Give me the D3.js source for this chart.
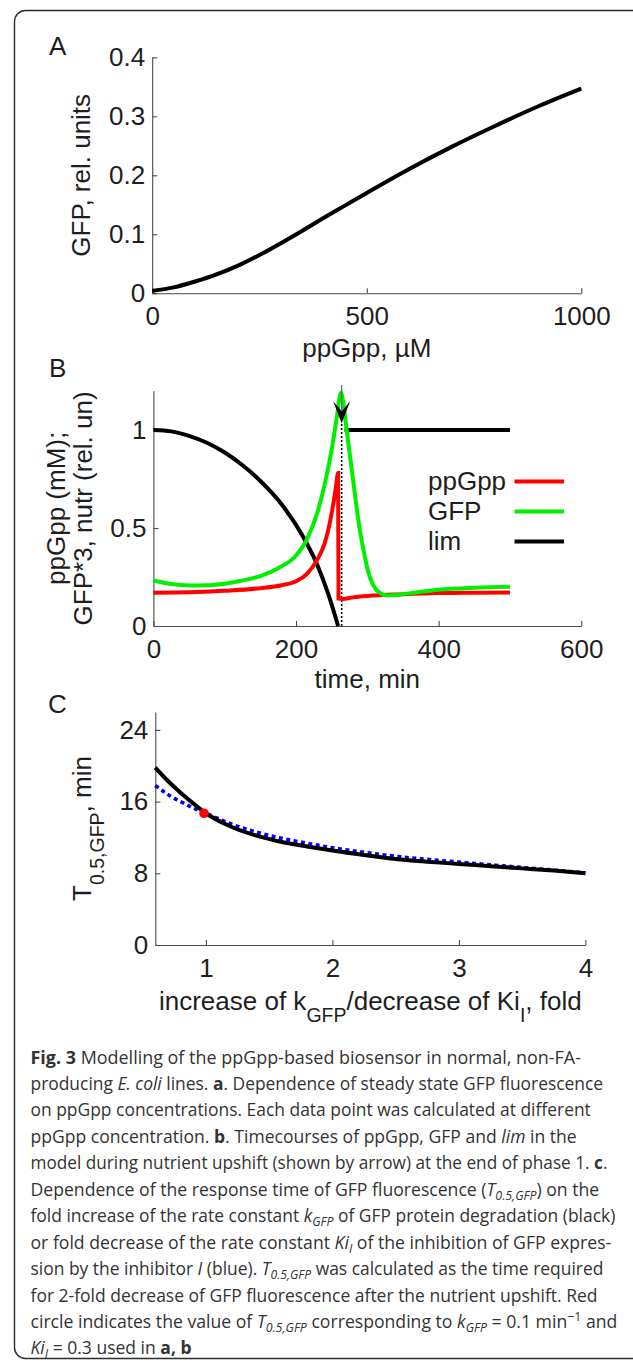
<!DOCTYPE html>
<html>
<head>
<meta charset="utf-8">
<script src="https://cdn.jsdelivr.net/npm/d3@7"></script>
<style>
  html, body { margin: 0; padding: 0; background: #fff; }
  svg { display: block; }
</style>
</head>
<body>
<svg id="fig" width="633" height="1364"></svg>
<script>
// ---------------- DATA ----------------
// Panel A: steady-state GFP vs ppGpp
const aPpGpp = [0, 50, 100, 150, 200, 250, 300, 350, 400, 450, 500, 600, 700, 800, 900, 1000];
const aGFP   = [0.004, 0.010, 0.020, 0.032, 0.047, 0.065, 0.085, 0.106, 0.128, 0.149, 0.170, 0.211, 0.249, 0.284, 0.317, 0.347];
const aXTicks = [0, 500, 1000];
const aXTickLabels = ["0", "500", "1000"];
const aYTicks = [0, 0.1, 0.2, 0.3, 0.4];
const aYTickLabels = ["0", "0.1", "0.2", "0.3", "0.4"];

// Panel B: time courses
const bPpGpp = [[0,0.170],[50,0.172],[100,0.180],[150,0.193],[180,0.208],[200,0.228],[215,0.265],[230,0.34],[240,0.42],[247,0.52],[253,0.64],[256,0.71],[259,0.78],[259.6,0.14],[265,0.138],[280,0.146],[300,0.153],[350,0.162],[400,0.168],[450,0.170],[500,0.171]];
const bGFP   = [[0,0.232],[25,0.214],[50,0.207],[75,0.208],[100,0.216],[125,0.232],[150,0.255],[175,0.295],[200,0.36],[215,0.44],[230,0.58],[240,0.72],[250,0.9],[257,1.06],[263,1.19],[267,1.12],[271,1.0],[277,0.83],[283,0.66],[289,0.50],[295,0.38],[301,0.28],[308,0.21],[317,0.17],[328,0.156],[340,0.158],[370,0.172],[400,0.185],[450,0.195],[500,0.200]];
const bLim   = [[0,1.0],[25,0.993],[50,0.97],[75,0.935],[100,0.885],[125,0.82],[150,0.74],[180,0.62],[210,0.455],[230,0.31],[245,0.165],[259,0]];
const bLimAfter = [[268,1],[500,1]];
const bUpshiftTime = 264;
const bArrowTip = 1.035, bArrowTop = 1.23;
const bXTicks = [0, 200, 400, 600];
const bXTickLabels = ["0", "200", "400", "600"];
const bYTicks = [0, 0.5, 1];
const bYTickLabels = ["0", "0.5", "1"];
const bLegend = ["ppGpp", "GFP", "lim"];

// Panel C: response time vs fold change
const cFold  = [0.6, 0.7, 0.8, 0.9, 1.0, 1.2, 1.4, 1.6, 1.8, 2.0, 2.25, 2.5, 2.75, 3.0, 3.25, 3.5, 3.75, 4.0];
const cKgfp  = [19.8, 18.3, 17.0, 15.8, 14.7, 13.2, 12.2, 11.5, 11.0, 10.55, 10.05, 9.6, 9.3, 9.05, 8.8, 8.55, 8.3, 8.0];
const cKiI   = [17.8, 16.8, 16.0, 15.3, 14.7, 13.5, 12.6, 11.9, 11.35, 10.85, 10.35, 9.9, 9.55, 9.25, 8.95, 8.65, 8.35, 8.05];
const cPoint = [0.985, 14.7];
const cXTicks = [1, 2, 3, 4];
const cXTickLabels = ["1", "2", "3", "4"];
const cYTicks = [0, 8, 16, 24];
const cYTickLabels = ["0", "8", "16", "24"];

// Caption (text only)
const captionLines = [
  [["Fig. 3","b"],[" Modelling of the ppGpp-based biosensor in normal, non-FA-"]],
  [["producing "],["E. coli","i"],[" lines. "],["a","b"],[". Dependence of steady state GFP fluorescence"]],
  [["on ppGpp concentrations. Each data point was calculated at different"]],
  [["ppGpp concentration. "],["b","b"],[". Timecourses of ppGpp, GFP and "],["lim","i"],[" in the"]],
  [["model during nutrient upshift (shown by arrow) at the end of phase 1. "],["c","b"],["."]],
  [["Dependence of the response time of GFP fluorescence ("],["T","i"],["0.5,GFP","isub"],[") on the"]],
  [["fold increase of the rate constant "],["k","i"],["GFP","isub"],[" of GFP protein degradation (black)"]],
  [["or fold decrease of the rate constant "],["Ki","i"],["I","isub"],[" of the inhibition of GFP expres-"]],
  [["sion by the inhibitor "],["I","i"],[" (blue). "],["T","i"],["0.5,GFP","isub"],[" was calculated as the time required"]],
  [["for 2-fold decrease of GFP fluorescence after the nutrient upshift. Red"]],
  [["circle indicates the value of "],["T","i"],["0.5,GFP","isub"],[" corresponding to "],["k","i"],["GFP","isub"],[" = 0.1 min"],["\u22121","sup"],[" and"]],
  [["Ki","i"],["I","isub"],[" = 0.3 used in "],["a, b","b"]]
];

// ---------------- LAYOUT ----------------
const FONT = "'Liberation Sans', Arial, Helvetica, sans-serif";
const TXT = "#1e1e1e";
const AX = "#4a4a4a";
const svg = d3.select("#fig");
svg.append("rect").attr("width", 633).attr("height", 1364).attr("fill", "#fff");
svg.append("rect").attr("x", 14.5).attr("y", 10.5).attr("width", 630).attr("height", 1348)
   .attr("rx", 11).attr("fill", "none").attr("stroke", "#2b2b2b").attr("stroke-width", 1.4);

function drawAxes(g, x, y, xt, xtl, yt, ytl) {
  const xa = d3.axisBottom(x).tickValues(xt).tickFormat((d, i) => xtl[i])
    .tickSizeInner(-5).tickSizeOuter(0).tickPadding(13.5);
  const ya = d3.axisLeft(y).tickValues(yt).tickFormat((d, i) => ytl[i])
    .tickSizeInner(-5).tickSizeOuter(0).tickPadding(7);
  const gx = g.append("g").attr("transform", `translate(0,${y.range()[0]})`).call(xa);
  const gy = g.append("g").attr("transform", `translate(${x.range()[0]},0)`).call(ya);
  [gx, gy].forEach(a => {
    a.select(".domain").attr("stroke", AX).attr("stroke-width", 1.1);
    a.selectAll(".tick line").attr("stroke", AX).attr("stroke-width", 1.1);
    a.selectAll(".tick text").attr("fill", TXT).style("font-family", FONT).style("font-size", "26px");
  });
}
function panelLabel(t, x, y) {
  svg.append("text").attr("x", x).attr("y", y).text(t)
    .attr("fill", TXT).style("font-family", FONT).style("font-size", "26px");
}

// ---------- Panel A ----------
{
  const x = d3.scaleLinear().domain([0, 1000]).range([152.2, 581.3]);
  const y = d3.scaleLinear().domain([0, 0.4]).range([293.3, 57.3]);
  const g = svg.append("g");
  drawAxes(g, x, y, aXTicks, aXTickLabels, aYTicks, aYTickLabels);
  g.append("path").datum(aPpGpp.map((v, i) => [v, aGFP[i]]))
    .attr("d", d3.line().x(d => x(d[0])).y(d => y(d[1])).curve(d3.curveMonotoneX))
    .attr("fill", "none").attr("stroke", "#000").attr("stroke-width", 4);
  panelLabel("A", 49, 55);
  g.append("text").attr("transform", `translate(90,${(y.range()[0] + y.range()[1]) / 2}) rotate(-90)`)
    .attr("text-anchor", "middle").text("GFP, rel. units")
    .attr("fill", TXT).style("font-family", FONT).style("font-size", "26px");
  g.append("text").attr("x", (x.range()[0] + x.range()[1]) / 2).attr("y", 357)
    .attr("text-anchor", "middle").text("ppGpp, \u00B5M")
    .attr("fill", TXT).style("font-family", FONT).style("font-size", "26px");
}

// ---------- Panel B ----------
{
  const x = d3.scaleLinear().domain([0, 600]).range([153.4, 581.3]);
  const y = d3.scaleLinear().domain([0, 1.2]).range([626, 390.8]);
  const g = svg.append("g");
  drawAxes(g, x, y, bXTicks, bXTickLabels, bYTicks, bYTickLabels);
  const line = d3.line().x(d => x(d[0])).y(d => y(d[1])).curve(d3.curveMonotoneX);
  g.append("path").datum(bLim).attr("d", line)
    .attr("fill", "none").attr("stroke", "#000").attr("stroke-width", 4);
  g.append("path").datum(bLimAfter).attr("d", line)
    .attr("fill", "none").attr("stroke", "#000").attr("stroke-width", 4);
  const xu = x(bUpshiftTime);
  g.append("line").attr("x1", xu).attr("x2", xu).attr("y1", y(0)).attr("y2", y(bArrowTip))
    .attr("stroke", "#000").attr("stroke-width", 1.6).attr("stroke-dasharray", "2,2");
  g.append("path").datum(bPpGpp).attr("d", line)
    .attr("fill", "none").attr("stroke", "#ff0000").attr("stroke-width", 4);
  g.append("path").datum(bGFP).attr("d", line)
    .attr("fill", "none").attr("stroke", "#00f000").attr("stroke-width", 4);
  // upshift arrow drawn on top
  g.append("line").attr("x1", xu).attr("x2", xu).attr("y1", y(bArrowTop)).attr("y2", y(bArrowTip) - 12)
    .attr("stroke", "#666").attr("stroke-width", 1.2);
  const yt = y(bArrowTip);
  g.append("path")
    .attr("d", `M${xu},${yt} L${xu - 8.5},${yt - 22} L${xu},${yt - 12} L${xu + 8.5},${yt - 22} Z`)
    .attr("fill", "#000");
  // legend
  const legColors = ["#ff0000", "#00f000", "#000"];
  const legBase = [490, 520, 550];
  bLegend.forEach((name, i) => {
    g.append("text").attr("x", 428).attr("y", legBase[i]).text(name)
      .attr("fill", TXT).style("font-family", FONT).style("font-size", "26px");
    g.append("line").attr("x1", 514.5).attr("x2", 564).attr("y1", legBase[i] - 8.5).attr("y2", legBase[i] - 8.5)
      .attr("stroke", legColors[i]).attr("stroke-width", 4);
  });
  panelLabel("B", 49, 377);
  const cy = (y.range()[0] + y.range()[1]) / 2;
  g.append("text").attr("transform", `translate(65,${cy}) rotate(-90)`)
    .attr("text-anchor", "middle").text("ppGpp (mM);")
    .attr("fill", TXT).style("font-family", FONT).style("font-size", "26px");
  g.append("text").attr("transform", `translate(92,${cy}) rotate(-90)`)
    .attr("text-anchor", "middle").text("GFP*3, nutr (rel. un)")
    .attr("fill", TXT).style("font-family", FONT).style("font-size", "26px");
  g.append("text").attr("x", (x.range()[0] + x.range()[1]) / 2).attr("y", 688)
    .attr("text-anchor", "middle").text("time, min")
    .attr("fill", TXT).style("font-family", FONT).style("font-size", "26px");
}

// ---------- Panel C ----------
{
  const x = d3.scaleLinear().domain([0.6, 4]).range([155.3, 585.4]);
  const y = d3.scaleLinear().domain([0, 26]).range([945, 712]);
  const g = svg.append("g");
  drawAxes(g, x, y, cXTicks, cXTickLabels, cYTicks, cYTickLabels);
  const line = d3.line().x(d => x(d[0])).y(d => y(d[1])).curve(d3.curveMonotoneX);
  g.append("path").datum(cFold.map((v, i) => [v, cKiI[i]])).attr("d", line)
    .attr("fill", "none").attr("stroke", "#0000ff").attr("stroke-width", 3.6).attr("stroke-dasharray", "4,3.5");
  g.append("path").datum(cFold.map((v, i) => [v, cKgfp[i]])).attr("d", line)
    .attr("fill", "none").attr("stroke", "#000").attr("stroke-width", 4);
  g.append("circle").attr("cx", x(cPoint[0])).attr("cy", y(cPoint[1])).attr("r", 4.8).attr("fill", "#ff0000");
  panelLabel("C", 48, 713);
  const cy = (y.range()[0] + y.range()[1]) / 2;
  const yl = g.append("text").attr("transform", `translate(90.5,${cy}) rotate(-90)`)
    .attr("text-anchor", "middle").attr("fill", TXT).style("font-family", FONT).style("font-size", "26px");
  yl.append("tspan").text("T");
  yl.append("tspan").attr("dy", 13).style("font-size", "19.5px").text("0.5,GFP");
  yl.append("tspan").attr("dy", -13).text(", min");
  const xl = g.append("text").attr("x", (x.range()[0] + x.range()[1]) / 2).attr("y", 1010)
    .attr("text-anchor", "middle").attr("fill", TXT).style("font-family", FONT).style("font-size", "26px");
  xl.append("tspan").text("increase of k");
  xl.append("tspan").attr("dy", 12).style("font-size", "19.5px").text("GFP");
  xl.append("tspan").attr("dy", -12).text("/decrease of Ki");
  xl.append("tspan").attr("dy", 12).style("font-size", "19.5px").text("I");
  xl.append("tspan").attr("dy", -12).text(", fold");
}

// ---------- Caption ----------
{
  const CF = "'Open Sans', 'Noto Sans', sans-serif";
  const left = 30.5;
  const rights = [581, 603.5, 591, 577, 607.6, 599.5, 615.7, 611.6, 603.5, 597.5, 617.7, null];
  const base0 = 1063.5, lh = 26.45;
  const scales = [];
  const texts = [];
  captionLines.forEach((segs, li) => {
    const t = svg.append("text").attr("x", 0).attr("y", 0)
      .attr("fill", "#333").style("font-family", CF).style("font-size", "18.5px");
    let shift = 0;
    segs.forEach(([s, st]) => {
      const ts = t.append("tspan").text(s);
      let target = 0;
      if (st === "b") ts.style("font-weight", "700");
      if (st === "i") ts.style("font-style", "italic");
      if (st === "isub") { ts.style("font-style", "italic").style("font-size", "13px"); target = 4; }
      if (st === "sup") { ts.style("font-size", "13px"); target = -7; }
      if (target !== shift) { ts.attr("dy", target - shift); shift = target; }
    });
    const w = t.node().getComputedTextLength();
    const s = rights[li] ? (rights[li] - left) / w : null;
    if (s) scales.push(s);
    texts.push([t, s]);
  });
  const avg = d3.mean(scales);
  texts.forEach(([t, s], li) => {
    t.attr("transform", `translate(${left},${base0 + li * lh}) scale(${s || avg},1)`);
  });
}
</script>
</body>
</html>
